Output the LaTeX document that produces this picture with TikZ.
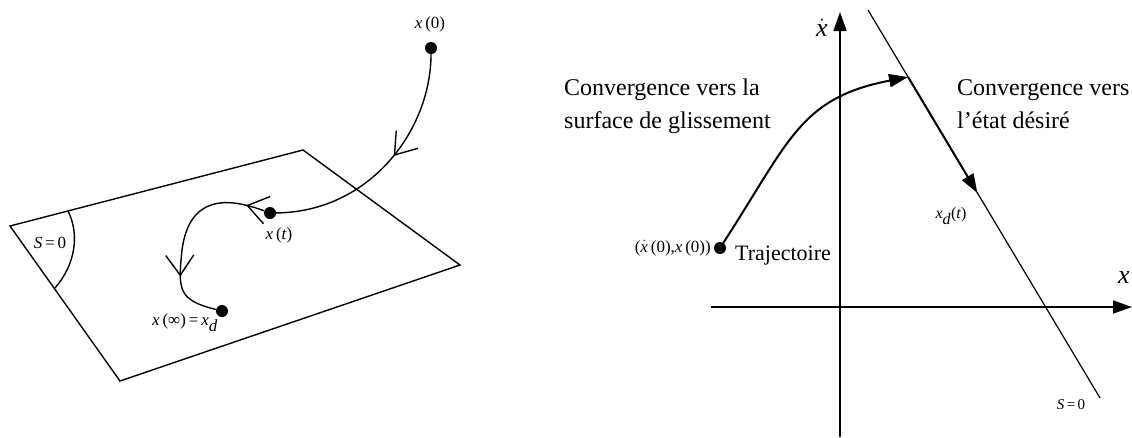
\documentclass[tikz,border=0pt]{standalone}
\usepackage{fontspec}
\setmainfont{Liberation Serif}
\usetikzlibrary{arrows.meta,decorations.markings,calc}
\tikzset{
  dotnode/.style={circle,fill=black,inner sep=0pt,minimum size=12pt},
  thinline/.style={line width=1.4pt},
  barb/.style={postaction={decorate},decoration={markings,
      mark=at position #1 with {\arrow{Straight Barb[length=20pt,width=28pt,line width=1.4pt]}}}},
  bigtext/.style={font=\fontsize{24}{33}\selectfont,align=left,inner sep=0pt},
  smalltext/.style={font=\fontsize{17}{20}\selectfont,inner sep=0pt},
  tri/.style={-{Triangle[length=19pt,width=13pt]}},
}
\begin{document}
\begin{tikzpicture}[x=1pt,y=-1pt]
\useasboundingbox (0,0) rectangle (1132,437);
% ---------------- left panel ----------------
\coordinate (pl) at (10,226);
\coordinate (pt) at (303,150);
\coordinate (pr) at (460,265);
\coordinate (pb) at (120,381);
\draw[thinline,line join=miter] (pl) -- (pt) -- (pr) -- (pb) -- cycle;
\coordinate (a1) at (68,211);
\coordinate (a2) at (55,288);
\draw[thinline] (a1) .. controls (80,235) and (75,265) .. (a2);
\node[smalltext] (s0l) at (50,243) {\textit{S}\,=\,0};

\node[dotnode] (x0) at (431,48) {};
\node[smalltext] (x0l) at (430,24) {\textit{x}\,(0)};
\node[dotnode] (xt) at (270,213) {};
\node[smalltext] (xtl) at (279,235) {\textit{x}\,(\textit{t})};
\node[dotnode] (xinf) at (222,311) {};
\node[smalltext] (xinfl) at (185,323) {\textit{x}\,(∞)\,=\,\textit{x}$_{\textit{d}}$};
\coordinate (mid) at (182,250);

\draw[thinline,barb=0.45] (x0) .. controls (431,130) and (370,212) .. (xt);
\draw[thinline,barb=0.17] (xt) .. controls (235,200) and (190,190) .. (mid);
\draw[thinline,barb=0.33] (mid) .. controls (178,290) and (178,300) .. (xinf);

% ---------------- right panel ----------------
\coordinate (vb) at (840,437);
\coordinate (vt) at (840,12);
\coordinate (hl) at (711,307);
\coordinate (hr) at (1132,307);
\draw[line width=1.6pt,tri] (vb) -- (vt);
\draw[line width=1.6pt,tri] (hl) -- (hr);
\node[font=\fontsize{26}{28}\selectfont,inner sep=0pt] (xdot) at (822,28) {$\dot{\textit{x}}$};
\node[font=\fontsize{26}{28}\selectfont,inner sep=0pt,anchor=west] (xlab) at (1118,278) {\textit{x}};

\coordinate (st) at (868,10);
\coordinate (sb) at (1100,398);
\draw[line width=1.2pt] (st) -- (sb);
\node[smalltext,font=\fontsize{15}{18}\selectfont] (s0r) at (1071,405) {\textit{S}\,=\,0};

\coordinate (sa) at ($(st)!0.1727!(sb)$);
\coordinate (sc) at ($(st)!0.4716!(sb)$);
\draw[line width=2pt,tri] (sa) -- (sc);
\node[smalltext,font=\fontsize{16}{18}\selectfont] (xdl) at (951,216) {\textit{x}$_{\textit{d}}$(\textit{t})};

\node[dotnode] (p0) at (720,248) {};
\node[smalltext,anchor=east] (p0l) at (711,248) {($\dot{\textit{x}}$\,(0),\textit{x}\,(0))};
\node[font=\fontsize{22}{26}\selectfont,inner sep=0pt,anchor=west] (traj) at (735,256) {Trajectoire};
\draw[line width=2pt,tri] (p0) .. controls (790,140) and (800,98) .. (sa);

\node[bigtext,anchor=north west] (c1) at (564,79) {Convergence vers la\\surface de glissement};
\node[bigtext,anchor=north west] (c2) at (957,79) {Convergence vers\\l’état désiré};
\end{tikzpicture}
\end{document}
